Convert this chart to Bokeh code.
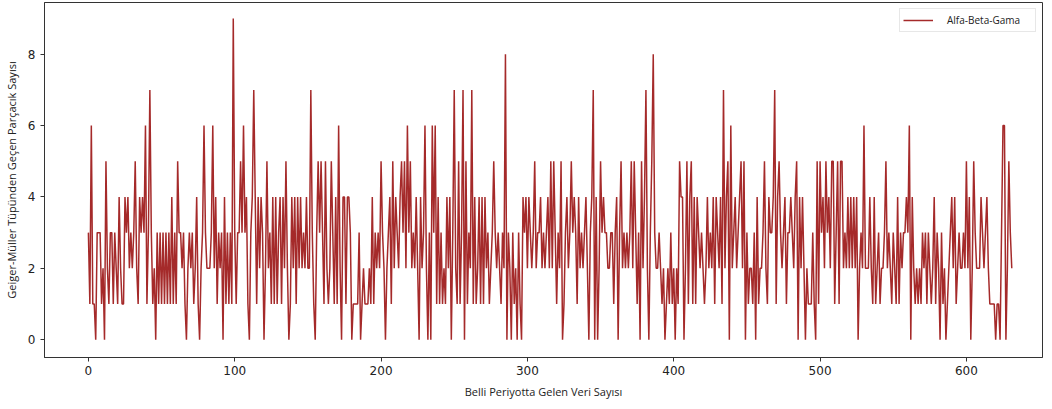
from bokeh.plotting import figure
from bokeh.models import Range1d, FixedTicker, Legend, LegendItem
from bokeh.embed import file_html
from bokeh.resources import INLINE

# Particle counts (one value per reading)
counts_a = [3,1,6,1,1,0,3,3,3,1, 2,0,5,2,1,3,3,1,3,2, 1,4,2,1,1,4,3,4,2,3,
            2,3,5,2,1,4,3,4,3,6, 1,3,7,3,1,2,0,3,1,3, 1,3,1,3,1,3,1,4,1,3, 1,5]
counts_b = [3,3,2,3,1,0,2,3,2,3, 1,2,4,1,0,2,3,6,3,2, 2,2,3,6,2,4,1,3,2,3,
            0,4,1,3,1,3,1,9,3,1, 3,3,5,3,6,3,4,1,0,3, 4,7,4,1,4,2,4,3,0,2, 5,2,3,1]
counts_c = [4,1,4,1,3,4,1,4,2,5, 2,0,1,4,2,4,1,4,2,4, 2,3,2,4,2,2,7,3,1,0,
            3,5,3,5,3,1,5,2,1,2, 5,3,1,4,1,6,2,0,4,4, 1,4,4,3,0,1,1,1,1,3, 0,1,2,1]
counts_d = [1,1,2,1,4,1,3,2,3,2, 5,3,2,0,2,3,4,1,5,2, 4,3,2,4,5,3,5,2,6,3,
            5,2,3,2,4,2,0,4,2,3, 6,2,0,3,0,6,3,6,1,4, 1,3,1,2,1,4,2,4,0,3, 7]
counts_e = [2,1,5,1,3,7,0,5,1,3, 2,7,1,4,1,2,4,1,4,1, 4,2,3,1,2,3,5,3,2,3,
            2,1,3,2,8,0,3,2,0,3, 1,2,0,3,1,0,4,3,4,2, 4,3,2,3,5,2,3,3,4,2, 3,2,3,4,2]
counts_f = [5,2,5,3,1,3,2,5,0,1, 3,4,2,3,5,3,4,3,1,4, 2,3,2,3,4,2,0,3,4,7,
            0,4,0,2,5,3,4,3,3,2, 2,3,3,1,3,4,0,3,5,2, 3,2,3,2,3,5,2,5,3,1, 3,0,5,2,4]
counts_g = [7,2,0,3,5,8,3,2,2,3, 2,1,2,0,1,2,1,3,1,2, 0,2,1,5,4,4,0,2,5,1,
            4,5,1,4,1,4,3,2,3,2, 1,2,4,2,3,2,4,1,4,3, 2,4,1,7,2,4,5,0,6,2, 3,4,2,3]
counts_h = [4,5,2,5,0,3,1,2,2,1, 3,0,4,1,2,2,3,5,2,1, 4,3,3,4,7,1,4,5,3,2,
            3,4,1,3,3,4,3,2,4,5, 0,4,2,4,2,0,2,1,1,1, 3,1,0,5,1,5,3,4,2,5, 3,4,2]
counts_i = [5,5,1,3,5,1,5,5,2,3, 2,4,2,4,2,4,2,4,0,2, 3,2,6,2,2,2,4,2,1,4,
            1,2,3,1,2,2,3,5,2,3, 2,1,3,2,1,4,1,3,2,3, 3,4,3,6,0,4,2,1,2,1, 2,1,3,2]
counts_j = [3,1,3,2,1,2,4,1,3,2, 0,3,1,2,0,1,2,3,4,2, 4,1,2,3,2,2,3,2,5,2,
            4,0,2,5,3,2,2,2,4,3, 2,3,4,2,1,1,1,1,0,1, 1,0,3,6,6,0,2,5,3,2]

counts = (counts_a + counts_b + counts_c + counts_d + counts_e +
          counts_f + counts_g + counts_h + counts_i + counts_j)
index = list(range(len(counts)))

x_ticks = [0, 100, 200, 300, 400, 500, 600]
y_ticks = [0, 2, 4, 6, 8]
series_name = "Alfa-Beta-Gama"
x_title = "Belli Periyotta Gelen Veri Sayısı"
y_title = "Geiger-Müller Tüpünden Geçen Parçacık Sayısı"

p = figure(width=1043, height=401, output_backend="svg", toolbar_location=None,
           x_range=Range1d(-30, 652), y_range=Range1d(-0.5, 9.45),
           min_border_left=39, min_border_right=1, min_border_top=2, min_border_bottom=43)

line = p.line(index, counts, line_color="#a52a2a", line_width=1.5)

p.xgrid.visible = False
p.ygrid.visible = False
p.outline_line_color = "#333333"
p.outline_line_width = 1
p.background_fill_color = "white"
p.border_fill_color = "white"

for ax in (p.xaxis[0], p.yaxis[0]):
    ax.axis_line_color = "#333333"
    ax.major_tick_line_color = "#333333"
    ax.minor_tick_line_color = None
    ax.major_tick_out = 4
    ax.major_tick_in = 0
    ax.major_label_text_font = "DejaVu Sans"
    ax.major_label_text_font_size = "12px"
    ax.major_label_text_color = "#222222"
    ax.axis_label_text_font = "Open Sans"
    ax.axis_label_text_font_size = "11px"
    ax.axis_label_text_font_style = "normal"
    ax.axis_label_text_color = "#222222"

p.xaxis[0].ticker = FixedTicker(ticks=x_ticks)
p.yaxis[0].ticker = FixedTicker(ticks=y_ticks)
p.xaxis[0].axis_label = x_title
p.yaxis[0].axis_label = y_title
p.xaxis[0].axis_label_standoff = 6
p.yaxis[0].axis_label_standoff = 6
p.xaxis[0].major_label_standoff = 4
p.yaxis[0].major_label_standoff = 5

legend = Legend(items=[LegendItem(label=series_name, renderers=[line])],
                location="top_right")
legend.label_text_font = "Open Sans"
legend.label_text_font_size = "10px"
legend.label_text_color = "#222222"
legend.border_line_color = "#d0d0d0"
legend.border_line_width = 1
legend.background_fill_alpha = 0.9
legend.glyph_width = 30
legend.glyph_height = 16
legend.padding = 3
legend.spacing = 0
legend.margin = 6
legend.label_standoff = 14
legend.label_width = 85
legend.label_height = 16
p.add_layout(legend)

open("out.html", "w").write(file_html(p, INLINE))
